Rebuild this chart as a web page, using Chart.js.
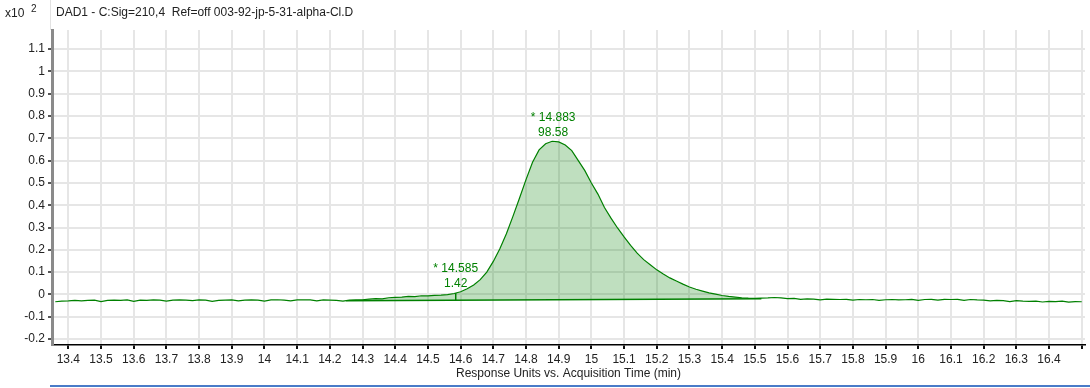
<!DOCTYPE html>
<html>
<head>
<meta charset="utf-8">
<script src="https://cdn.jsdelivr.net/npm/chart.js@4/dist/chart.umd.min.js"></script>
<style>
  html, body { margin: 0; padding: 0; background: #fff; }
  canvas { display: block; }
</style>
</head>
<body>
<canvas id="chromChart" width="1090" height="388"></canvas>
<script>
// retention time (min) and detector response (x10^2)
const times = [
  13.36, 13.38, 13.40, 13.42, 13.44, 13.46, 13.48, 13.50, 13.52, 13.54,
  13.56, 13.58, 13.60, 13.62, 13.64, 13.66, 13.68, 13.70, 13.72, 13.74,
  13.76, 13.78, 13.80, 13.82, 13.84, 13.86, 13.88, 13.90, 13.92, 13.94,
  13.96, 13.98, 14.00, 14.02, 14.04, 14.06, 14.08, 14.10, 14.12, 14.14,
  14.16, 14.18, 14.20, 14.22, 14.24, 14.26, 14.28, 14.30, 14.32, 14.34,
  14.36, 14.38, 14.40, 14.42, 14.44, 14.46, 14.48, 14.50, 14.52, 14.54,
  14.56, 14.58, 14.60, 14.62, 14.64, 14.66, 14.68, 14.70, 14.72, 14.74,
  14.76, 14.78, 14.80, 14.82, 14.84, 14.86, 14.88, 14.90, 14.92, 14.94,
  14.96, 14.98, 15.00, 15.02, 15.04, 15.06, 15.08, 15.10, 15.12, 15.14,
  15.16, 15.18, 15.20, 15.22, 15.24, 15.26, 15.28, 15.30, 15.32, 15.34,
  15.36, 15.38, 15.40, 15.42, 15.44, 15.46, 15.48, 15.50, 15.52, 15.54,
  15.56, 15.58, 15.60, 15.62, 15.64, 15.66, 15.68, 15.70, 15.72, 15.74,
  15.76, 15.78, 15.80, 15.82, 15.84, 15.86, 15.88, 15.90, 15.92, 15.94,
  15.96, 15.98, 16.00, 16.02, 16.04, 16.06, 16.08, 16.10, 16.12, 16.14,
  16.16, 16.18, 16.20, 16.22, 16.24, 16.26, 16.28, 16.30, 16.32, 16.34,
  16.36, 16.38, 16.40, 16.42, 16.44, 16.46, 16.48, 16.50
];
const signal = [
  -0.033, -0.030, -0.029, -0.027, -0.029, -0.027, -0.026, -0.032, -0.027, -0.026,
  -0.027, -0.025, -0.031, -0.026, -0.027, -0.025, -0.026, -0.030, -0.026, -0.025,
  -0.026, -0.028, -0.025, -0.026, -0.031, -0.027, -0.026, -0.025, -0.029, -0.026,
  -0.025, -0.026, -0.030, -0.025, -0.024, -0.026, -0.029, -0.025, -0.024, -0.025,
  -0.029, -0.025, -0.026, -0.027, -0.030, -0.026, -0.025, -0.024, -0.021, -0.019,
  -0.020, -0.015, -0.013, -0.012, -0.009, -0.010, -0.006, -0.007, -0.004, -0.003,
  -0.001, 0.004, 0.012, 0.025, 0.042, 0.066, 0.100, 0.148, 0.205, 0.272,
  0.350, 0.431, 0.515, 0.593, 0.648, 0.676, 0.687, 0.684, 0.670, 0.645,
  0.600, 0.555, 0.500, 0.450, 0.390, 0.342, 0.298, 0.258, 0.220, 0.185,
  0.156, 0.133, 0.110, 0.091, 0.074, 0.060, 0.046, 0.033, 0.023, 0.015,
  0.007, 0.001, -0.005, -0.009, -0.012, -0.015, -0.017, -0.018, -0.017, -0.016,
  -0.014, -0.016, -0.019, -0.018, -0.022, -0.020, -0.021, -0.025, -0.021, -0.022,
  -0.023, -0.022, -0.026, -0.023, -0.024, -0.023, -0.027, -0.024, -0.023, -0.025,
  -0.024, -0.022, -0.027, -0.023, -0.022, -0.026, -0.022, -0.023, -0.022, -0.027,
  -0.023, -0.025, -0.026, -0.029, -0.027, -0.028, -0.032, -0.028, -0.030, -0.031,
  -0.030, -0.034, -0.031, -0.032, -0.030, -0.035, -0.032, -0.033
];

// integration baseline (start / end of the integrated region)
const baseTimes = [14.25, 15.52];
const baseValues = [-0.028, -0.020];

// integrated peaks
const peakTimes = [14.585, 14.883];
const peakHeights = [0.006, 0.687];
const peakAreas = ['1.42', '98.58'];

const titleText = 'DAD1 - C:Sig=210,4  Ref=off 003-92-jp-5-31-alpha-Cl.D';
const xAxisTitle = 'Response Units vs. Acquisition Time (min)';

const FONT = 'Arial, "Liberation Sans", sans-serif';
const GREEN = 'rgb(0,128,0)';

const tracePoints = times.map((t, i) => ({ x: t, y: signal[i] }));
const areaPoints = tracePoints.filter(p => p.x >= baseTimes[0] && p.x <= baseTimes[1]);
const basePoints = baseTimes.map((t, i) => ({ x: t, y: baseValues[i] }));

// baseline level under the first peak, for the split line
const frac = (peakTimes[0] - baseTimes[0]) / (baseTimes[1] - baseTimes[0]);
const splitBase = baseValues[0] + frac * (baseValues[1] - baseValues[0]);
const splitPoints = [{ x: peakTimes[0], y: splitBase }, { x: peakTimes[0], y: peakHeights[0] }];

function fmt(v) {
    return String(+v.toFixed(1));
}

const decorations = {
    id: 'decorations',
    afterDraw(chart) {
        const ctx = chart.ctx;
        const xs = chart.scales.x;
        const ys = chart.scales.y;
        const area = chart.chartArea;
        ctx.save();

        // faint frame at the top left
        ctx.strokeStyle = '#e2e2e2';
        ctx.lineWidth = 1;
        ctx.beginPath();
        ctx.moveTo(50.5, 0);
        ctx.lineTo(50.5, area.top);
        ctx.stroke();

        // header
        ctx.fillStyle = '#222';
        ctx.textBaseline = 'middle';
        ctx.textAlign = 'left';
        ctx.font = '12px ' + FONT;
        ctx.fillText('x10', 5, 14);
        ctx.font = '10px ' + FONT;
        ctx.fillText('2', 31, 9);
        ctx.font = '12px ' + FONT;
        ctx.fillText(titleText, 56, 13);

        // peak labels
        ctx.fillStyle = GREEN;
        ctx.textAlign = 'center';
        peakTimes.forEach((t, i) => {
            const px = xs.getPixelForValue(t);
            const py = ys.getPixelForValue(peakHeights[i]);
            ctx.fillText('* ' + t.toFixed(3), px, py - 24);
            ctx.fillText(peakAreas[i], px, py - 9);
        });

        // x axis title
        ctx.fillStyle = '#222';
        ctx.fillText(xAxisTitle, (area.left + area.right) / 2, 374);

        // blue rule at the bottom
        ctx.strokeStyle = '#4a7bc8';
        ctx.lineWidth = 2;
        ctx.beginPath();
        ctx.moveTo(50, 386);
        ctx.lineTo(1090, 386);
        ctx.stroke();
        ctx.restore();
    }
};

const ctx = document.getElementById('chromChart').getContext('2d');
new Chart(ctx, {
    type: 'line',
    data: {
        datasets: [{
            data: areaPoints,
            borderWidth: 0,
            pointRadius: 0,
            backgroundColor: 'rgba(0,128,0,0.25)',
            fill: 1
        }, {
            data: basePoints,
            borderColor: GREEN,
            borderWidth: 1.5,
            pointRadius: 0,
            fill: false
        }, {
            data: splitPoints,
            borderColor: GREEN,
            borderWidth: 1.5,
            pointRadius: 0,
            fill: false
        }, {
            data: tracePoints,
            borderColor: GREEN,
            borderWidth: 1.2,
            pointRadius: 0,
            tension: 0,
            fill: false
        }]
    },
    options: {
        responsive: false,
        animation: false,
        layout: { padding: { top: 30, right: 5, left: 0, bottom: 0 } },
        plugins: {
            legend: { display: false },
            tooltip: { enabled: false }
        },
        scales: {
            x: {
                type: 'linear',
                min: 13.35,
                max: 16.51,
                afterFit(scale) { scale.height = 43; },
                grid: { color: '#e6e6e6', lineWidth: 2, tickColor: '#111', tickLength: 4 },
                border: { color: '#000', width: 1.5 },
                ticks: {
                    stepSize: 0.1,
                    includeBounds: false,
                    autoSkip: false,
                    maxRotation: 0,
                    padding: 3,
                    color: '#222',
                    font: { family: FONT, size: 12 },
                    callback: v => v > 16.45 ? '' : fmt(v)
                }
            },
            y: {
                min: -0.227,
                max: 1.186,
                afterFit(scale) { scale.width = 52; },
                grid: { color: '#e6e6e6', lineWidth: 2, tickColor: '#555', tickLength: 4 },
                border: { color: '#8a8a8a', width: 3 },
                ticks: {
                    stepSize: 0.1,
                    includeBounds: false,
                    autoSkip: false,
                    padding: 3,
                    color: '#222',
                    font: { family: FONT, size: 12 },
                    callback: v => fmt(v)
                }
            }
        }
    },
    plugins: [decorations]
});
</script>
</body>
</html>
